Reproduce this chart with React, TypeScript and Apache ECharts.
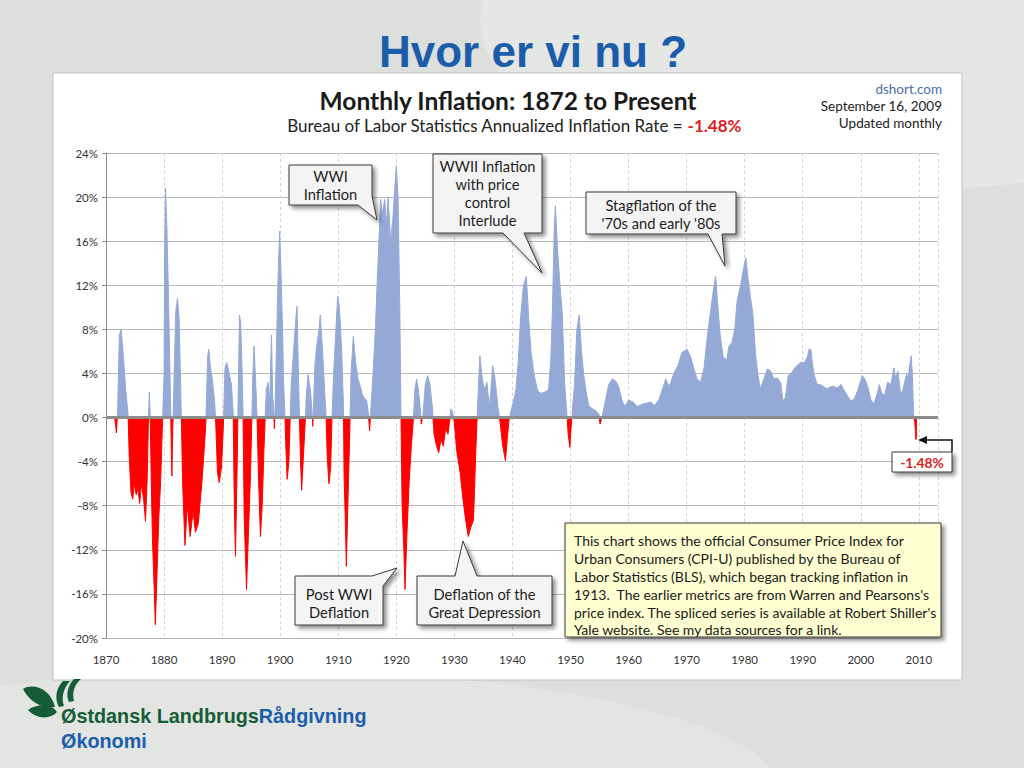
import React, { useEffect, useRef } from "react";
import * as echarts from "echarts";

// Monthly annualized inflation (%): [year, value]
const era1870s: [number, number][] = [
  [1871.5, 0], [1871.8, -1.4], [1872.0, 0.5], [1872.3, 7.5], [1872.6, 8.0], [1873.0, 5.5], [1873.4, 2.5],
  [1873.8, 0.3], [1874.0, -3.5], [1874.3, -6.8], [1874.6, -7.4], [1874.9, -6.0], [1875.2, -7.0], [1875.5, -6.5],
  [1875.8, -7.8], [1876.1, -6.0], [1876.5, -7.5], [1876.8, -9.4], [1877.1, -5.5], [1877.3, -0.5], [1877.45, 2.3],
  [1877.6, 0.5], [1877.8, -6.0], [1878.0, -11.0], [1878.3, -15.5], [1878.5, -18.8], [1878.8, -14.0],
  [1879.1, -9.0], [1879.4, -6.0], [1879.7, -1.0],
];
const era1880s: [number, number][] = [
  [1880.0, 4.0], [1880.1, 15.0], [1880.25, 20.8], [1880.5, 17.0], [1880.8, 10.0], [1881.1, 2.0], [1881.25, -3.0],
  [1881.35, -5.3], [1881.5, -1.0], [1881.7, 3.0], [1882.0, 9.5], [1882.3, 10.8], [1882.6, 9.0], [1882.85, 3.0],
  [1883.0, -0.5], [1883.2, -6.0], [1883.6, -11.6], [1884.0, -8.0], [1884.5, -10.8], [1885.0, -8.5],
  [1885.4, -10.4], [1885.9, -9.6], [1886.5, -6.0], [1886.9, -3.0], [1887.2, -0.5], [1887.5, 5.5], [1887.7, 6.2],
  [1888.0, 4.5], [1888.3, 3.5], [1888.7, 1.5], [1888.9, -0.5], [1889.2, -5.0], [1889.5, -5.9], [1889.9, -4.5],
];
const era1890s: [number, number][] = [
  [1890.2, -1.0], [1890.5, 4.5], [1890.8, 5.0], [1891.2, 4.0], [1891.6, 3.0], [1891.9, 0.5], [1892.1, -8.0],
  [1892.3, -12.6], [1892.6, -4.0], [1892.8, 3.0], [1893.0, 9.3], [1893.2, 8.5], [1893.4, 5.0], [1893.6, 0.5],
  [1893.8, -9.0], [1894.2, -15.6], [1894.5, -11.0], [1894.9, -5.0], [1895.1, -0.5], [1895.3, 4.0], [1895.5, 6.5],
  [1895.8, 3.0], [1896.0, 0.3], [1896.3, -6.0], [1896.6, -10.8], [1896.9, -8.0], [1897.2, -3.0], [1897.4, -0.3],
  [1897.6, 2.5], [1897.9, 3.2], [1898.2, 1.5], [1898.5, 7.5], [1898.7, 2.0], [1898.9, 0.5], [1899.0, -1.0],
  [1899.1, 0.5], [1899.3, 5.0], [1899.6, 12.0], [1899.9, 16.9],
];
const era1900s: [number, number][] = [
  [1900.1, 14.0], [1900.4, 8.0], [1900.6, 3.0], [1900.8, 0.5], [1901.0, -3.0], [1901.2, -5.6], [1901.5, -4.0],
  [1901.7, -0.5], [1901.9, 3.0], [1902.3, 6.0], [1902.7, 9.0], [1902.9, 10.1], [1903.1, 5.0], [1903.3, 0.5],
  [1903.5, -4.0], [1903.7, -6.6], [1904.0, -3.5], [1904.3, -0.5], [1904.5, 2.0], [1904.8, 3.9], [1905.2, 2.5],
  [1905.5, 0.5], [1905.6, -0.8], [1905.7, 0.3], [1906.0, 5.0], [1906.3, 6.5], [1906.7, 8.0], [1906.9, 9.3],
  [1907.3, 6.0], [1907.7, 2.0], [1907.9, 0.2], [1908.1, -3.5], [1908.4, -6.0], [1908.7, -4.5], [1908.9, -0.5],
  [1909.2, 4.0], [1909.5, 7.0], [1909.9, 11.0],
];
const era1910s: [number, number][] = [
  [1910.2, 10.0], [1910.6, 6.0], [1910.9, 1.0], [1911.0, -5.0], [1911.2, -9.0], [1911.4, -13.5], [1911.7, -7.0],
  [1912.0, -1.0], [1912.2, 4.0], [1912.6, 7.4], [1913.0, 5.0], [1913.4, 3.5], [1913.7, 3.0], [1914.2, 2.0],
  [1914.9, 1.5], [1915.2, 0.3], [1915.4, -1.2], [1915.6, 0.5], [1916.0, 4.0], [1916.4, 8.0], [1916.7, 12.2],
  [1917.0, 16.0], [1917.3, 19.8], [1917.6, 18.5], [1918.0, 19.8], [1918.3, 17.5], [1918.6, 20.0], [1919.0, 16.0],
  [1919.4, 18.0], [1919.7, 20.5],
];
const era1920s: [number, number][] = [
  [1920.0, 22.8], [1920.3, 20.0], [1920.6, 10.0], [1920.8, 0.5], [1921.0, -8.0], [1921.3, -12.0], [1921.5, -15.6],
  [1921.8, -11.0], [1922.2, -6.0], [1922.6, -2.5], [1922.9, -0.5], [1923.2, 2.5], [1923.5, 3.5], [1923.8, 2.5],
  [1924.1, 1.0], [1924.3, -0.6], [1924.6, 0.3], [1925.0, 3.0], [1925.4, 3.8], [1925.8, 3.0], [1926.2, 1.0],
  [1926.5, -1.5], [1926.9, -2.5], [1927.3, -3.2], [1927.7, -2.0], [1928.1, -2.6], [1928.5, -1.0], [1928.9, -1.5],
  [1929.2, -0.3], [1929.4, 0.8], [1929.7, 0.5],
];
const era1930s: [number, number][] = [
  [1930.0, -0.5], [1930.4, -3.0], [1931.0, -5.0], [1931.5, -7.5], [1932.0, -9.5], [1932.4, -10.8], [1932.8, -10.0],
  [1933.3, -9.3], [1933.7, -3.0], [1933.9, -0.3], [1934.2, 3.5], [1934.4, 5.6], [1934.8, 3.5], [1935.2, 2.5],
  [1935.6, 3.2], [1936.0, 1.0], [1936.3, 2.5], [1936.6, 4.7], [1937.0, 3.5], [1937.5, 1.0], [1937.9, -0.5],
  [1938.3, -2.5], [1938.8, -3.9], [1939.1, -2.0], [1939.4, -0.3], [1939.7, 0.5],
];
const era1940s: [number, number][] = [
  [1940.2, 1.5], [1940.6, 2.5], [1941.0, 5.0], [1941.4, 9.0], [1941.9, 12.0], [1942.4, 12.8], [1942.8, 9.0],
  [1943.2, 6.0], [1943.7, 4.0], [1944.3, 2.5], [1944.8, 2.2], [1945.5, 2.3], [1946.2, 2.5], [1946.6, 5.0],
  [1946.9, 10.0], [1947.2, 17.0], [1947.4, 19.2], [1947.8, 15.0], [1948.2, 12.0], [1948.6, 9.3], [1949.0, 3.0],
  [1949.4, 0.2], [1949.6, -1.5], [1949.9, -2.7],
];
const era1950s: [number, number][] = [
  [1950.1, -1.0], [1950.3, 0.5], [1950.7, 3.0], [1951.1, 8.0], [1951.5, 9.3], [1951.9, 6.0], [1952.3, 3.8],
  [1952.8, 2.0], [1953.2, 1.0], [1953.8, 0.8], [1954.4, 0.6], [1954.9, 0.3], [1955.1, -0.6], [1955.3, -0.2],
  [1955.6, 0.5], [1956.0, 1.5], [1956.6, 3.0], [1957.2, 3.5], [1957.8, 3.3], [1958.3, 2.8], [1958.9, 1.5],
  [1959.4, 1.0],
];
const era1960s: [number, number][] = [
  [1960.0, 1.6], [1960.8, 1.4], [1961.5, 1.0], [1962.3, 1.2], [1963.0, 1.3], [1963.8, 1.4], [1964.5, 1.1],
  [1965.2, 1.6], [1965.8, 2.5], [1966.4, 3.5], [1967.0, 2.8], [1967.8, 4.0], [1968.5, 4.7], [1969.2, 5.9],
];
const era1970s: [number, number][] = [
  [1970.1, 6.2], [1970.7, 5.5], [1971.2, 4.5], [1971.8, 3.5], [1972.4, 3.2], [1973.0, 4.5], [1973.6, 7.5],
  [1974.1, 9.5], [1974.6, 11.5], [1975.0, 12.8], [1975.4, 10.0], [1975.8, 7.4], [1976.3, 5.5], [1976.9, 5.2],
  [1977.3, 6.5], [1977.8, 6.8], [1978.3, 8.0], [1978.7, 10.6], [1979.3, 12.0], [1979.8, 13.5],
];
const era1980s: [number, number][] = [
  [1980.2, 14.5], [1980.6, 12.5], [1981.0, 10.9], [1981.4, 9.5], [1981.9, 5.6], [1982.3, 3.8], [1982.7, 2.6],
  [1983.3, 3.5], [1983.9, 4.4], [1984.5, 4.2], [1985.0, 3.5], [1985.6, 3.6], [1986.2, 3.2], [1986.6, 1.5],
  [1987.0, 1.8], [1987.5, 3.8], [1988.0, 4.0], [1988.8, 4.6], [1989.6, 5.0],
];
const era1990s: [number, number][] = [
  [1990.3, 5.0], [1990.8, 5.5], [1991.1, 6.2], [1991.4, 6.2], [1991.7, 4.8], [1992.0, 3.8], [1992.5, 3.0],
  [1993.0, 3.0], [1993.6, 2.8], [1994.2, 2.6], [1994.8, 2.8], [1995.4, 2.8], [1996.0, 2.7], [1996.6, 3.0],
  [1997.2, 2.4], [1997.8, 1.9], [1998.3, 1.5], [1998.9, 1.7], [1999.5, 2.5], [1999.9, 3.2],
];
const era2000s: [number, number][] = [
  [2000.3, 3.8], [2000.8, 3.4], [2001.2, 2.8], [2001.8, 1.5], [2002.3, 1.3], [2002.9, 2.3], [2003.2, 3.0],
  [2003.6, 2.2], [2004.1, 2.0], [2004.6, 3.2], [2005.2, 3.0], [2005.7, 4.5], [2006.0, 3.6], [2006.4, 4.2],
  [2006.9, 2.0], [2007.3, 2.6], [2007.9, 4.0], [2008.1, 3.5], [2008.5, 5.0], [2008.7, 5.6], [2008.9, 3.7],
  [2009.1, 0.1], [2009.3, -0.4], [2009.5, -2.0], [2009.67, -1.48],
];

const inflation = [
  ...era1870s, ...era1880s, ...era1890s, ...era1900s, ...era1910s, ...era1920s, ...era1930s,
  ...era1940s, ...era1950s, ...era1960s, ...era1970s, ...era1980s, ...era1990s, ...era2000s,
];

const latestRate = "-1.48%";
const noteLines = [
  "This chart shows the official Consumer Price Index for",
  "Urban Consumers (CPI-U) published by the Bureau of",
  "Labor Statistics (BLS), which began tracking inflation in",
  "1913.  The earlier metrics are from Warren and Pearsons's",
  "price index. The spliced series is available at Robert Shiller's",
  "Yale website. See my data sources for a link.",
];

const FONT = "Lato, 'Open Sans', sans-serif";
const SHADOW = { shadowBlur: 4, shadowOffsetX: 3, shadowOffsetY: 3, shadowColor: "rgba(0,0,0,0.45)" };

function callout(points: number[][], cx: number, cy: number, text: string, lh: number) {
  return [
    {
      type: "polygon",
      z: 50,
      shape: { points },
      style: { fill: "#F4F4F4", stroke: "#3a3a3a", lineWidth: 1, ...SHADOW },
    },
    {
      type: "text",
      z: 51,
      x: cx,
      y: cy,
      style: {
        text,
        fill: "#1e1e1e",
        font: `14.7px ${FONT}`,
        lineHeight: lh,
        textAlign: "center",
        textVerticalAlign: "middle",
      },
    },
  ];
}

export default function App() {
  const ref = useRef<HTMLDivElement>(null);

  useEffect(() => {
    if (!ref.current) return;
    echarts.graphic.registerShape(
      "leafA",
      echarts.graphic.extendPath("M23 689 C33 683 50 688 55 707 C44 709 30 703 23 689 Z", {})
    );
    echarts.graphic.registerShape(
      "leafB",
      echarts.graphic.extendPath("M28 710 C38 703 52 704 57 712 C50 720 36 719 28 710 Z", {})
    );
    echarts.graphic.registerShape(
      "arcA",
      echarts.graphic.extendPath("M63 681 C55 689 55 700 59 707 L64 706 C61 698 63 689 70 681 Z", {})
    );
    echarts.graphic.registerShape(
      "arcB",
      echarts.graphic.extendPath("M74 679 C67 686 66 696 69 702 L74 701 C72 693 74 685 81 679 Z", {})
    );

    const chart = echarts.init(ref.current, undefined, { renderer: "svg" });

    const graphics: any[] = [
      // slide background shapes
      { type: "ellipse", z: -10, shape: { cx: 900, cy: 20, rx: 420, ry: 170 }, style: { fill: "#E4E7E4" } },
      { type: "ellipse", z: -10, shape: { cx: 260, cy: 790, rx: 520, ry: 120 }, style: { fill: "#E2E5E2" } },
      // white chart panel
      {
        type: "rect",
        z: -5,
        shape: { x: 53, y: 73, width: 909, height: 607 },
        style: { fill: "#FFFFFF", stroke: "#BFC3BF", lineWidth: 1 },
      },
      // slide title
      {
        type: "text",
        x: 533,
        y: 51,
        style: {
          text: "Hvor er vi nu ?",
          font: "bold 44px 'Liberation Sans', Arial, sans-serif",
          fill: "#1C5DAB",
          textAlign: "center",
          textVerticalAlign: "middle",
        },
      },
      // chart titles
      {
        type: "text",
        x: 508,
        y: 100,
        style: {
          text: "Monthly Inflation: 1872 to Present",
          font: `bold 24.5px ${FONT}`,
          fill: "#1a1a1a",
          textAlign: "center",
          textVerticalAlign: "middle",
        },
      },
      {
        type: "text",
        x: 514,
        y: 125,
        style: {
          text: `{a|Bureau of Labor Statistics Annualized Inflation Rate = }{b|${latestRate}}`,
          textAlign: "center",
          textVerticalAlign: "middle",
          rich: {
            a: { fontSize: 17, fontFamily: FONT, fill: "#222", color: "#222" },
            b: { fontSize: 17, fontFamily: FONT, fontWeight: "bold", fill: "#E0201B", color: "#E0201B" },
          },
        },
      },
      {
        type: "text",
        x: 942,
        y: 89,
        style: { text: "dshort.com", font: `13.5px ${FONT}`, fill: "#4A6EA8", textAlign: "right", textVerticalAlign: "middle" },
      },
      {
        type: "text",
        x: 942,
        y: 106,
        style: { text: "September 16, 2009", font: `13.5px ${FONT}`, fill: "#222", textAlign: "right", textVerticalAlign: "middle" },
      },
      {
        type: "text",
        x: 942,
        y: 123,
        style: { text: "Updated monthly", font: `13.5px ${FONT}`, fill: "#222", textAlign: "right", textVerticalAlign: "middle" },
      },
      // callouts
      ...callout([[289, 165], [372, 165], [372, 196], [377, 220], [358, 205], [289, 205]], 330.5, 185, "WWI\nInflation", 18),
      ...callout(
        [[433, 154], [542, 154], [542, 233], [524, 233], [542, 273], [503, 233], [433, 233]],
        487.5, 193, "WWII Inflation\nwith price\ncontrol\nInterlude", 18.3
      ),
      ...callout(
        [[586, 192], [736, 192], [736, 234], [722, 234], [725, 266], [708, 234], [586, 234]],
        661, 214, "Stagflation of the\n'70s and early '80s", 18
      ),
      ...callout([[295, 576], [372, 576], [397, 568], [383, 586], [383, 625], [295, 625]], 339, 603, "Post WWI\nDeflation", 17.5),
      ...callout(
        [[417, 576], [455, 576], [463, 541], [477, 576], [552, 576], [552, 625], [417, 625]],
        484.5, 603, "Deflation of the\nGreat Depression", 17.5
      ),
      // latest value box with arrow
      {
        type: "polyline",
        z: 52,
        shape: { points: [[952, 452], [952, 440], [925, 440]] },
        style: { stroke: "#111", lineWidth: 1.5, fill: "none" },
      },
      {
        type: "polygon",
        z: 52,
        shape: { points: [[918, 440], [927, 436], [927, 444]] },
        style: { fill: "#111" },
      },
      {
        type: "rect",
        z: 50,
        shape: { x: 892, y: 452, width: 60, height: 20 },
        style: { fill: "#FFFFFF", stroke: "#3a3a3a", lineWidth: 1, ...SHADOW },
      },
      {
        type: "text",
        z: 51,
        x: 922,
        y: 462,
        style: { text: latestRate, font: `bold 13.8px ${FONT}`, fill: "#E0201B", textAlign: "center", textVerticalAlign: "middle" },
      },
      // note box
      {
        type: "rect",
        z: 50,
        shape: { x: 565, y: 523, width: 376, height: 114 },
        style: { fill: "#FFFFD2", stroke: "#3a3a3a", lineWidth: 1, ...SHADOW },
      },
      {
        type: "text",
        z: 51,
        x: 574,
        y: 532,
        style: {
          text: noteLines.join("\n"),
          font: `14px ${FONT}`,
          fill: "#1a1a1a",
          lineHeight: 17.8,
          textAlign: "left",
          textVerticalAlign: "top",
        },
      },
      // logo
      { type: "leafA", z: 5, x: 0, y: 0, shape: {}, style: { fill: "#155C37" } },
      { type: "leafB", z: 5, x: 0, y: 0, shape: {}, style: { fill: "#155C37" } },
      { type: "arcA", z: 5, x: 0, y: 0, shape: {}, style: { fill: "#155C37" } },
      { type: "arcB", z: 5, x: 0, y: 0, shape: {}, style: { fill: "#155C37" } },
      {
        type: "text",
        x: 61,
        y: 716,
        style: {
          text: "{g|Østdansk Landbrugs}{b|Rådgivning}",
          textAlign: "left",
          textVerticalAlign: "middle",
          rich: {
            g: { fontSize: 19.8, fontWeight: "bold", fontFamily: "'Liberation Sans', Arial, sans-serif", fill: "#155C37", color: "#155C37" },
            b: { fontSize: 19.8, fontWeight: "bold", fontFamily: "'Liberation Sans', Arial, sans-serif", fill: "#1C5DAB", color: "#1C5DAB" },
          },
        },
      },
      {
        type: "text",
        x: 61,
        y: 741,
        style: {
          text: "Økonomi",
          font: "bold 19.8px 'Liberation Sans', Arial, sans-serif",
          fill: "#1C5DAB",
          textAlign: "left",
          textVerticalAlign: "middle",
        },
      },
    ];

    chart.setOption({
      animation: false,
      backgroundColor: "#DCDFDC",
      textStyle: { fontFamily: FONT },
      grid: { left: 106, top: 153, width: 832, height: 485, containLabel: false },
      xAxis: {
        type: "value",
        min: 1870,
        max: 2013.3,
        interval: 10,
        axisLine: { show: false },
        axisTick: { show: false },
        axisLabel: {
          color: "#333",
          fontSize: 11.5,
          margin: 15,
          showMaxLabel: false,
          formatter: (v: number) => String(Math.round(v)),
        },
        splitLine: { show: true, lineStyle: { color: "#D2D2D2", type: [3, 3], width: 1 } },
      },
      yAxis: {
        type: "value",
        min: -20,
        max: 24,
        interval: 4,
        axisLine: { show: true, lineStyle: { color: "#8A8A8A", width: 1 } },
        axisTick: { show: true, length: 4, lineStyle: { color: "#8A8A8A" } },
        axisLabel: { formatter: "{value}%", fontSize: 11.5, color: "#333", margin: 8 },
        splitLine: { show: true, lineStyle: { color: "#B9B9B9", width: 1 } },
      },
      visualMap: {
        show: false,
        type: "piecewise",
        seriesIndex: 0,
        dimension: 1,
        pieces: [
          { gt: -30, lte: 0, color: "#FF0000" },
          { gt: 0, lte: 30, color: "#94A9D6" },
        ],
      },
      series: [
        {
          type: "line",
          data: inflation,
          symbol: "none",
          showSymbol: false,
          lineStyle: { width: 1 },
          areaStyle: { opacity: 1 },
          markLine: {
            silent: true,
            symbol: ["none", "none"],
            label: { show: false },
            lineStyle: { color: "#8C8C8C", width: 3, type: "solid" },
            data: [{ yAxis: 0 }],
          },
        },
      ],
      graphic: graphics,
    });

    return () => chart.dispose();
  }, []);

  return (
    <div
      ref={ref}
      style={{ position: "absolute", left: 0, top: 0, width: 1024, height: 768 }}
    />
  );
}
